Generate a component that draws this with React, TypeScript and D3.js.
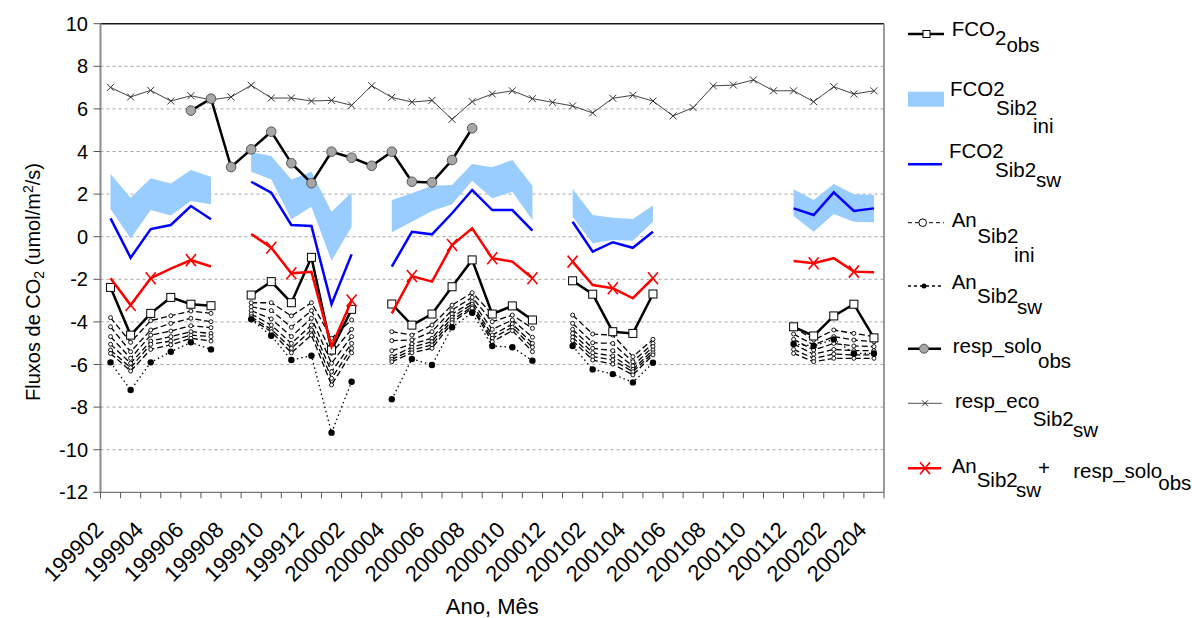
import React from "react";
import * as d3 from "d3";

// Monthly categories (YYYYMM)
const months = [
  "199902", "199903", "199904", "199905", "199906", "199907", "199908", "199909", "199910", "199911", "199912",
  "200001", "200002", "200003", "200004", "200005", "200006", "200007", "200008", "200009", "200010", "200011", "200012",
  "200101", "200102", "200103", "200104", "200105", "200106", "200107", "200108", "200109", "200110", "200111", "200112",
  "200201", "200202", "200203", "200204",
];

const _ = null;

// Observed net CO2 flux
const fco2Obs = [
  -2.38, -4.62, -3.6, -2.85, -3.17, -3.24, _, -2.74, -2.11, -3.1, -0.97, -5.32, -3.41, _,
  -3.16, -4.15, -3.63, -2.35, -1.09, -3.63, -3.25, -3.91, _,
  -2.07, -2.7, -4.46, -4.54, -2.69, _, _, _, _, _, _,
  -4.23, -4.66, -3.72, -3.17, -4.75,
];

// SiB2 (initial parameters) net flux envelope
const fco2IniHigh = [
  2.94, 1.83, 2.74, 2.5, 3.13, 2.82, _, 3.96, 3.79, 2.69, 3.05, 1.17, 2.08, _,
  1.72, 2.04, 2.39, 2.43, 3.41, 3.26, 3.6, 2.39, _,
  2.24, 1.02, 0.89, 0.83, 1.46, _, _, _, _, _, _,
  2.23, 1.72, 2.47, 1.99, 1.96,
];
const fco2IniLow = [
  1.3, -0.08, 1.25, 0.99, 1.68, 1.52, _, 3.05, 2.69, 0.82, 1.41, -1.13, 0.47, _,
  0.21, 0.7, 1.21, 1.52, 2.63, 1.8, 2.11, 0.78, _,
  0.94, -0.31, -0.15, -0.19, 0.7, _, _, _, _, _, _,
  0.97, 0.23, 1.07, 0.7, 0.68,
];

// SiB2 (soil water adjusted) net flux
const fco2Sw = [
  0.86, -0.99, 0.36, 0.55, 1.44, 0.82, _, 2.58, 2.07, 0.55, 0.5, -3.17, -0.83, _,
  -1.41, 0.23, 0.11, 1.1, 2.19, 1.25, 1.25, 0.28, _,
  0.7, -0.7, -0.26, -0.52, 0.23, _, _, _, _, _, _,
  1.33, 1.02, 2.08, 1.21, 1.33,
];

// Net assimilation, SiB2 initial parameter runs
const anIni1 = [
  -3.8, -4.96, -3.94, -3.71, -3.49, -3.6, _, -3.1, -3.1, -3.72, -3.1, -4.77, -3.91, _,
  -4.46, -4.62, -4.15, -3.21, -2.63, -3.63, -3.25, -3.91, _,
  -3.68, -4.57, -4.62, -5.63, -4.82, _, _, _, _, _, _,
  -4.23, -4.85, -4.38, -4.54, -4.69,
];
const anIni2 = [
  -4.23, -5.4, -4.38, -4.07, -3.83, -3.99, _, -3.29, -3.47, -4.25, -3.47, -5.47, -4.35, _,
  -4.88, -4.85, -4.46, -3.44, -2.85, -3.99, -3.68, -4.3, _,
  -4.07, -4.98, -5.01, -5.87, -5.01, _, _, _, _, _, _,
  -4.57, -5.08, -4.69, -4.85, -4.93,
];
const anIni3 = [
  -4.69, -5.71, -4.62, -4.43, -4.18, -4.27, _, -3.47, -3.86, -4.69, -3.83, -5.94, -4.69, _,
  -5.35, -5.04, -4.77, -3.63, -3.05, -4.35, -3.91, -4.72, _,
  -4.35, -5.24, -5.35, -6.07, -5.16, _, _, _, _, _, _,
  -4.82, -5.32, -5.01, -5.13, -5.16,
];
const anIni4 = [
  -5.05, -5.94, -4.9, -4.69, -4.46, -4.54, _, -3.63, -4.15, -5.01, -4.15, -6.34, -5.01, _,
  -5.63, -5.19, -4.93, -3.78, -3.17, -4.62, -4.1, -5.01, _,
  -4.54, -5.45, -5.6, -6.23, -5.32, _, _, _, _, _, _,
  -5.04, -5.52, -5.29, -5.35, -5.35,
];
const anIni5 = [
  -5.32, -6.15, -5.05, -4.9, -4.62, -4.69, _, -3.76, -4.35, -5.24, -4.38, -6.65, -5.24, _,
  -5.76, -5.32, -5.08, -3.91, -3.29, -4.77, -4.25, -5.19, _,
  -4.72, -5.63, -5.79, -6.34, -5.45, _, _, _, _, _, _,
  -5.29, -5.71, -5.51, -5.55, -5.55,
];
const anIni6 = [
  -5.48, -6.31, -5.29, -5.08, -4.77, -4.9, _, -3.85, -4.46, -5.45, -4.62, -6.96, -5.45, _,
  -5.87, -5.45, -5.24, -4.04, -3.36, -4.93, -4.41, -5.4, _,
  -4.88, -5.79, -5.98, -6.49, -5.55, _, _, _, _, _, _,
  -5.48, -5.87, -5.71, -5.71, -5.71,
];

// Net assimilation, SiB2 soil water adjusted
const anSw = [
  -5.9, -7.2, -5.9, -5.4, -4.96, -5.29, _, -3.88, -4.65, -5.79, -5.59, -9.2, -6.81, _,
  -7.63, -5.74, -6.02, -4.25, -3.57, -5.13, -5.19, -5.82, _,
  -5.13, -6.23, -6.45, -6.84, -5.92, _, _, _, _, _, _,
  -5.04, -5.13, -4.82, -5.48, -5.48,
];

// Observed soil respiration
const respSoloObs = [
  _, _, _, _, 5.92, 6.48, 3.27, 4.1, 4.93, 3.45, 2.51, 3.99, 3.71, 3.33,
  3.99, 2.58, 2.55, 3.6, 5.09, _, _, _, _,
  _, _, _, _, _, _, _, _, _, _, _,
  _, _, _, _, _,
];

// SiB2 ecosystem respiration
const respEcoSw = [
  7.01, 6.56, 6.87, 6.37, 6.62, 6.42, 6.56, 7.11, 6.51, 6.51, 6.37, 6.4, 6.17, 7.09,
  6.54, 6.32, 6.4, 5.51, 6.34, 6.7, 6.85, 6.48, 6.31,
  6.14, 5.81, 6.5, 6.64, 6.37, 5.67, 6.06, 7.08, 7.12, 7.36, 6.85, 6.85,
  6.34, 7.04, 6.7, 6.85,
];

// An (SiB2 sw) + observed soil respiration
const anSwPlusResp = [
  -1.95, -3.21, -1.95, -1.5, -1.1, -1.4, _, 0.13, -0.52, -1.72, -1.65, -5.16, -3.0, _,
  -3.6, -1.85, -2.11, -0.39, 0.39, -1.01, -1.17, -1.95, _,
  -1.17, -2.27, -2.42, -2.89, -1.95, _, _, _, _, _, _,
  -1.14, -1.25, -1.01, -1.64, -1.67,
];
// months of anSwPlusResp that carry a cross marker
const anSwPlusRespMarked = [
  "199903", "199904", "199906", "199910", "199911", "200002",
  "200005", "200007", "200009", "200011", "200101", "200103", "200105",
  "200111", "200201", "200203",
];

const yTicks = [10, 8, 6, 4, 2, 0, -2, -4, -6, -8, -10, -12];
const xLabels = months.filter((_m, i) => i % 2 === 0);

const FONT = "'Liberation Sans', Arial, sans-serif";
const W = 1192;
const H = 618;
const left = 100.5;
const right = 884;
const top = 23.7;
const bottom = 492.3;

type Val = number | null;

export default function App() {
  const x = d3.scaleBand<string>().domain(months).range([left, right]).padding(0);
  const bw = x.bandwidth();
  const cx = (i: number) => (x(months[i]) as number) + bw / 2;
  const y = d3.scaleLinear().domain([-12, 10]).range([bottom, top]);

  const line = d3
    .line<Val>()
    .defined((d) => d !== null)
    .x((_d, i) => cx(i))
    .y((d) => y(d as number));

  const band = d3
    .area<number>()
    .defined((i) => fco2IniHigh[i] !== null && fco2IniLow[i] !== null)
    .x((i) => cx(i))
    .y0((i) => y(fco2IniLow[i] as number))
    .y1((i) => y(fco2IniHigh[i] as number));

  const idx = months.map((_m, i) => i);
  const pts = (arr: Val[]) => idx.filter((i) => arr[i] !== null);

  const anIni = [anIni1, anIni2, anIni3, anIni4, anIni5, anIni6];

  const xMark = (px: number, py: number, sx: number, sy: number, color: string, w: number, key: string) => (
    <path
      key={key}
      d={`M${px - sx},${py - sy}L${px + sx},${py + sy}M${px - sx},${py + sy}L${px + sx},${py - sy}`}
      stroke={color}
      strokeWidth={w}
      fill="none"
    />
  );

  const gridVals = yTicks.filter((v) => v > -12 && v < 10);

  return (
    <svg
      width={W}
      height={H}
      style={{ position: "absolute", left: 0, top: 0, background: "#fff" }}
      fontFamily={FONT}
    >
      <rect x={0} y={0} width={W} height={H} fill="#fff" />

      {/* grid */}
      {gridVals.map((v) => (
        <line key={"g" + v} x1={left} x2={right} y1={y(v)} y2={y(v)} stroke="#a6a6a6" strokeWidth={1} strokeDasharray="3,3" />
      ))}

      {/* plot frame */}
      <line x1={left} x2={right} y1={y(10)} y2={y(10)} stroke="#1a1a1a" strokeWidth={1.5} />
      <line x1={right} x2={right} y1={y(10)} y2={y(-12)} stroke="#9a9a9a" strokeWidth={2} />

      {/* FCO2 SiB2 ini envelope */}
      <path d={band(idx) || ""} fill="#99CCFF" stroke="none" />

      {/* An SiB2 ini members */}
      {anIni.map((arr, k) => (
        <g key={"ini" + k}>
          <path d={line(arr) || ""} fill="none" stroke="#000" strokeWidth={1.3} strokeDasharray="6,3" />
          {pts(arr).map((i) => (
            <circle key={i} cx={cx(i)} cy={y(arr[i] as number)} r={2} fill="#fff" stroke="#000" strokeWidth={0.9} />
          ))}
        </g>
      ))}

      {/* An SiB2 sw */}
      <path d={line(anSw) || ""} fill="none" stroke="#000" strokeWidth={1.3} strokeDasharray="1.5,3" />
      {pts(anSw).map((i) => (
        <circle key={"asw" + i} cx={cx(i)} cy={y(anSw[i] as number)} r={3.2} fill="#000" />
      ))}

      {/* FCO2 obs */}
      <path d={line(fco2Obs) || ""} fill="none" stroke="#000" strokeWidth={2.5} />
      {pts(fco2Obs).map((i) => (
        <rect key={"fo" + i} x={cx(i) - 4} y={y(fco2Obs[i] as number) - 4} width={8} height={8} fill="#fff" stroke="#000" strokeWidth={1} />
      ))}

      {/* resp_eco SiB2 sw */}
      <path d={line(respEcoSw) || ""} fill="none" stroke="#444" strokeWidth={1} />
      {pts(respEcoSw).map((i) => xMark(cx(i), y(respEcoSw[i] as number), 3.5, 3.5, "#333", 1, "re" + i))}

      {/* resp_solo obs */}
      <path d={line(respSoloObs) || ""} fill="none" stroke="#000" strokeWidth={2.5} />
      {pts(respSoloObs).map((i) => (
        <circle key={"rs" + i} cx={cx(i)} cy={y(respSoloObs[i] as number)} r={4.8} fill="#a6a6a6" stroke="#555" strokeWidth={1} />
      ))}

      {/* FCO2 SiB2 sw */}
      <path d={line(fco2Sw) || ""} fill="none" stroke="#0000ff" strokeWidth={2.5} />

      {/* An sw + resp_solo obs */}
      <path d={line(anSwPlusResp) || ""} fill="none" stroke="#ff0000" strokeWidth={2.5} />
      {pts(anSwPlusResp)
        .filter((i) => anSwPlusRespMarked.includes(months[i]))
        .map((i) => xMark(cx(i), y(anSwPlusResp[i] as number), 5, 6, "#ff0000", 1.6, "rm" + i))}

      {/* y axis */}
      <line x1={left} x2={left} y1={y(10)} y2={y(-12)} stroke="#8c8c8c" strokeWidth={2} />
      {yTicks.map((v) => (
        <g key={"yt" + v}>
          <line x1={left - 7} x2={left} y1={y(v)} y2={y(v)} stroke="#555" strokeWidth={1} />
          <text x={88} y={y(v)} dy="0.35em" textAnchor="end" fontSize={20} fill="#000">
            {v}
          </text>
        </g>
      ))}

      {/* x axis */}
      <line x1={left} x2={right} y1={y(-12)} y2={y(-12)} stroke="#555" strokeWidth={1} />
      {months.map((m) => (
        <line key={"xt" + m} x1={x(m) as number} x2={x(m) as number} y1={y(-12)} y2={y(-12) + 6} stroke="#555" strokeWidth={1} />
      ))}
      <line x1={right} x2={right} y1={y(-12)} y2={y(-12) + 6} stroke="#555" strokeWidth={1} />
      {xLabels.map((m) => {
        const px = (x(m) as number) + bw / 2 - 6;
        return (
          <text key={"xl" + m} transform={`translate(${px},531) rotate(-45)`} textAnchor="end" fontSize={22} fill="#000">
            {m}
          </text>
        );
      })}

      {/* axis titles */}
      <text x={(left + right) / 2} y={614} textAnchor="middle" fontSize={22} fill="#000">
        Ano, Mês
      </text>
      <text transform="translate(40,282) rotate(-90)" textAnchor="middle" fontSize={20} fill="#000">
        Fluxos de CO
        <tspan dy={4} fontSize={14}>2</tspan>
        <tspan dy={-4}> (umol/m</tspan>
        <tspan dy={-7} fontSize={14}>2</tspan>
        <tspan dy={7}>/s)</tspan>
      </text>

      {/* legend */}
      <g fontSize={20.5} fill="#000">
        <line x1={908} x2={944} y1={34} y2={34} stroke="#000" strokeWidth={2.5} />
        <rect x={923} y={30.5} width={7} height={7} fill="#fff" stroke="#000" strokeWidth={1} />
        <text x={951.7} y={35.5}>
          FCO<tspan dy={9}>2</tspan>
          <tspan dy={7}>obs</tspan>
        </text>

        <rect x={908} y={91.7} width={36} height={15} fill="#99CCFF" />
        <text x={950} y={96}>FCO2</text>
        <text x={996} y={115}>Sib2</text>
        <text x={1033} y={133}>ini</text>

        <line x1={908} x2={942} y1={164.3} y2={164.3} stroke="#0000ff" strokeWidth={2.5} />
        <text x={949} y={158.3}>FCO2</text>
        <text x={995} y={177.3}>Sib2</text>
        <text x={1036} y={187}>sw</text>

        <line x1={908} x2={944} y1={222.7} y2={222.7} stroke="#000" strokeWidth={1} strokeDasharray="4,3" />
        <circle cx={922.7} cy={222.7} r={3.8} fill="#fff" stroke="#000" strokeWidth={1} />
        <text x={951.7} y={226.7}>An</text>
        <text x={977.3} y={242.7}>Sib2</text>
        <text x={1014} y={261.7}>ini</text>

        <line x1={908} x2={944} y1={286} y2={286} stroke="#000" strokeWidth={1.3} strokeDasharray="3,3" />
        <circle cx={924} cy={286} r={2.5} fill="#000" />
        <text x={951.7} y={289.3}>An</text>
        <text x={977} y={303.3}>Sib2</text>
        <text x={1017} y={313.5}>sw</text>

        <line x1={908} x2={941} y1={348.7} y2={348.7} stroke="#000" strokeWidth={2.5} />
        <circle cx={924} cy={348.7} r={4.5} fill="#a6a6a6" stroke="#555" strokeWidth={1} />
        <text x={952.7} y={353}>resp_solo</text>
        <text x={1038} y={368}>obs</text>

        <line x1={908} x2={942} y1={403.3} y2={403.3} stroke="#555" strokeWidth={1} />
        {xMark(925, 403.3, 3, 3, "#333", 1, "lgx")}
        <text x={955} y={408}>resp_eco</text>
        <text x={1032.7} y={426}>Sib2</text>
        <text x={1073} y={437}>sw</text>

        <line x1={908} x2={941} y1={468.3} y2={468.3} stroke="#ff0000" strokeWidth={2.5} />
        {xMark(925, 468.3, 5, 6, "#ff0000", 1.6, "lgr")}
        <text x={951.7} y={473}>An</text>
        <text x={976.7} y={486.7}>Sib2</text>
        <text x={1016} y={497}>sw</text>
        <text x={1038} y={475}>+</text>
        <text x={1073.3} y={478}>resp_solo</text>
        <text x={1158.3} y={490}>obs</text>
      </g>
    </svg>
  );
}
